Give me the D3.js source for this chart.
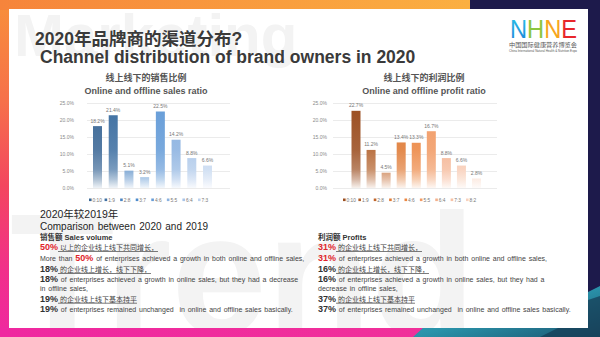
<!DOCTYPE html>
<html><head><meta charset="utf-8">
<script src="https://cdn.jsdelivr.net/npm/d3@7"></script>
<style>
html,body{margin:0;padding:0;background:#fff;}
svg{display:block;font-family:"Liberation Sans","Noto Sans CJK SC",Arial,sans-serif;}
text{white-space:pre;}
</style></head><body>
<svg id="c" width="600" height="337"></svg>
<script>
// ---- data ----
const salesCategories = ["0:10","1:9","2:8","3:7","4:6","5:5","6:4","7:3"];
const salesValues = [18.2,21.4,5.1,3.2,22.5,14.2,8.8,6.6];
const profitCategories = ["0:10","1:9","2:8","3:7","4:6","5:5","6:4","7:3","8:2"];
const profitValues = [22.7,11.2,4.5,13.4,13.3,16.7,8.8,6.6,2.8];
const yTickValues = [0,5,10,15,20,25];

// ---- styles ----
const salesColors = ["#3b6896","#3f70a2","#4a84c2","#4f8ccc","#679dd8","#8bb2e0","#a8c4e8","#bdd2ee"];
const profitColors = ["#9b4e20","#b2602a","#c0652a","#df7a35","#ec8642","#f19b66","#f4b08c","#f6c2a6","#f8d2bf"];

const svg = d3.select("#c");
const defs = svg.append("defs");

// ---- background frame ----
const bgG = defs.append("linearGradient").attr("id","bgV").attr("x1",0).attr("y1",0).attr("x2",0).attr("y2",1);
[["0","#f8903a"],["0.3","#f6704a"],["0.55","#f3465f"],["0.8","#f1308a"],["1","#ef28a0"]].forEach(s=>bgG.append("stop").attr("offset",s[0]).attr("stop-color",s[1]));
const topG = defs.append("linearGradient").attr("id","bgT").attr("x1",0).attr("y1",0).attr("x2",1).attr("y2",0);
[["0","#f6843b"],["1","#fbb041"]].forEach(s=>topG.append("stop").attr("offset",s[0]).attr("stop-color",s[1]));
const botG = defs.append("linearGradient").attr("id","bgB").attr("x1",0).attr("y1",0).attr("x2",1).attr("y2",0);
[["0","#ef28a0"],["1","#f0309a"]].forEach(s=>botG.append("stop").attr("offset",s[0]).attr("stop-color",s[1]));
const tealG = defs.append("linearGradient").attr("id","teal").attr("x1",0).attr("y1",0).attr("x2",1).attr("y2",1);
[["0","#3bb4c8"],["0.5","#2a93aa"],["1","#1c5570"]].forEach(s=>tealG.append("stop").attr("offset",s[0]).attr("stop-color",s[1]));

svg.append("rect").attr("width",600).attr("height",337).attr("fill","url(#bgV)");
svg.append("rect").attr("x",0).attr("y",0).attr("width",476).attr("height",10).attr("fill","url(#bgT)");
svg.append("rect").attr("x",0).attr("y",327).attr("width",420).attr("height",10).attr("fill","url(#bgB)");
svg.append("path").attr("d","M474,0 L600,0 L600,337 L588,337 L588,0 Z").attr("fill","#1d1a4b");
svg.append("path").attr("d","M470,0 L600,0 L600,20 L470,20 Z").attr("fill","#1d1a4b");
svg.append("path").attr("d","M413,337 L424,327 L588,327 L588,292 L600,286 L600,337 Z").attr("fill","url(#teal)");
svg.append("path").attr("d","M540,337 L560,327 L588,327 L588,300 L600,296 L600,337 Z").attr("fill","#163b52").attr("opacity",0.7);

// white panel
defs.append("clipPath").attr("id","panelClip").append("rect").attr("x",9).attr("y",9).attr("width",579).attr("height",319);
svg.append("rect").attr("x",9).attr("y",9).attr("width",579).attr("height",319).attr("fill","#ffffff");
const panel = svg.append("g").attr("clip-path","url(#panelClip)");
panel.append("text").attr("x",14).attr("y",56).attr("font-size",60).attr("font-weight","bold").attr("fill","#f3f3f3").text("Marketing");
panel.append("text").attr("x",10).attr("y",333).attr("font-size",171).attr("font-weight","bold").attr("fill","#f3f3f3").text("Trend");

// ---- titles ----
svg.append("text").attr("x",35).attr("y",45).attr("font-size",17.5).attr("font-weight","bold").attr("fill","#3a3a3a").text("2020年品牌商的渠道分布?");
svg.append("text").attr("x",40).attr("y",63).attr("font-size",17.5).attr("font-weight","bold").attr("fill","#3a3a3a").text("Channel distribution of brand owners in 2020");

// ---- logo ----
const lg = defs.append("linearGradient").attr("id","logoN").attr("x1",0).attr("y1",0).attr("x2",0).attr("y2",1);
lg.append("stop").attr("offset",0).attr("stop-color","#2bc6e8");
lg.append("stop").attr("offset",1).attr("stop-color","#1b7fd8");
const logo = svg.append("text").attr("x",510).attr("y",38).attr("font-size",25).attr("textLength",67).attr("lengthAdjust","spacingAndGlyphs");
[["N","url(#logoN)"],["H","#8cc63f"],["N","#f7a51c"],["E","#e8262b"]].forEach(d=>logo.append("tspan").attr("fill",d[1]).text(d[0]));
svg.append("text").attr("x",509).attr("y",46.5).attr("font-size",6).attr("fill","#555").attr("textLength",68).attr("lengthAdjust","spacingAndGlyphs").text("中国国际健康营养博览会");
svg.append("text").attr("x",509).attr("y",52).attr("font-size",2.6).attr("fill","#555").attr("textLength",68).attr("lengthAdjust","spacingAndGlyphs").text("China International Natural Health & Nutrition Expo");

// ---- charts ----
const y = d3.scaleLinear().domain([0,25]).range([188,103]);
function drawChart(cfg){
  const g = svg.append("g");
  g.append("text").attr("x",cfg.titleX).attr("y",80.5).attr("text-anchor","middle").attr("font-size",9).attr("font-weight","bold").attr("fill","#555").text(cfg.titleCn);
  g.append("text").attr("x",cfg.titleX).attr("y",94).attr("text-anchor","middle").attr("font-size",9).attr("font-weight","bold").attr("fill","#555").text(cfg.titleEn);
  // gridlines
  const grid = g.append("g").attr("transform",`translate(${cfg.gridX0},0)`)
    .call(d3.axisRight(y).tickValues(yTickValues).tickSize(cfg.gridX1-cfg.gridX0).tickFormat(""));
  grid.select(".domain").remove();
  grid.selectAll("line").attr("stroke","#dedede").attr("stroke-width",0.6);
  // y labels
  const ax = g.append("g").attr("transform",`translate(${cfg.labelX},0)`)
    .call(d3.axisLeft(y).tickValues(yTickValues).tickSize(0).tickPadding(0).tickFormat(d=>d.toFixed(1)+"%"));
  ax.select(".domain").remove();
  ax.selectAll("text").attr("font-size",5).attr("fill","#8a8a8a").attr("font-family",null);
  const x = d3.scalePoint().domain(cfg.cats).range([cfg.barX0,cfg.barX1]);
  const bw = 9;
  cfg.cats.forEach((c,i)=>{
    const col = cfg.colors[i];
    const gr = defs.append("linearGradient").attr("id",cfg.id+"g"+i).attr("gradientUnits","userSpaceOnUse")
      .attr("x1",0).attr("y1",y(25)).attr("x2",0).attr("y2",y(0));
    const mix = t=>d3.interpolateRgb(col,"#ffffff")(t);
    [[0,0],[0.55,0.12],[0.78,0.3],[0.9,0.6],[1,0.92]].forEach(s=>gr.append("stop").attr("offset",s[0]).attr("stop-color",mix(s[1])));
  });
  g.selectAll("rect.bar").data(cfg.vals).join("rect").attr("class","bar")
    .attr("x",(d,i)=>x(cfg.cats[i])-bw/2).attr("width",bw)
    .attr("y",d=>y(d)).attr("height",d=>y(0)-y(d))
    .attr("fill",(d,i)=>`url(#${cfg.id}g${i})`);
  g.selectAll("text.val").data(cfg.vals).join("text").attr("class","val")
    .attr("x",(d,i)=>x(cfg.cats[i])).attr("y",d=>y(d)-3.5)
    .attr("text-anchor","middle").attr("font-size",5).attr("fill","#777")
    .text(d=>d.toFixed(1)+"%");
  // legend
  const lx = d3.scalePoint().domain(cfg.cats).range([cfg.legX0,cfg.legX1]);
  const leg = g.selectAll("g.leg").data(cfg.cats).join("g").attr("class","leg")
    .attr("transform",d=>`translate(${lx(d)},200)`);
  leg.append("rect").attr("x",0).attr("y",-1.5).attr("width",2.6).attr("height",2.6).attr("fill",(d,i)=>cfg.colors[i]);
  leg.append("text").attr("x",3.6).attr("y",1.7).attr("font-size",4.8).attr("fill","#777").text(d=>d);
}
drawChart({id:"s",cats:salesCategories,vals:salesValues,colors:salesColors,titleCn:"线上线下的销售比例",titleEn:"Online and offline sales ratio",
  titleX:146,labelX:74,gridX0:87,gridX1:230,barX0:97.5,barX1:207.5,legX0:89,legX1:198});
drawChart({id:"p",cats:profitCategories,vals:profitValues,colors:profitColors,titleCn:"线上线下的利润比例",titleEn:"Online and offline profit ratio",
  titleX:424,labelX:327,gridX0:333,gridX1:497,barX0:356,barX1:476.5,legX0:343,legX1:466});

// ---- text blocks ----
const styles = {
  big:{size:10.5,weight:"normal",fill:"#1e1e1e"},
  big2:{size:10,weight:"normal",fill:"#1e1e1e",ws:1},
  h:{size:7.5,weight:"bold",fill:"#333"},
  red:{size:9,weight:"bold",fill:"#e0252b"},
  pct:{size:9,weight:"bold",fill:"#333"},
  b:{size:7,weight:"normal",fill:"#444",ws:0.9},
  cn:{size:7,weight:"normal",fill:"#444",ul:true}
};
const leftLines = [
  [218,[["2020年较2019年","big"]]],
  [229.5,[["Comparison between 2020 and 2019","big2"]]],
  [239.5,[["销售额 Sales volume","h"]]],
  [250.3,[["50%","red"],[" 以上的企业线上线下共同增长，","cn"]]],
  [261,[["More than ","b"],["50%","red"],[" of enterprises achieved a growth in both online and offline sales,","b"]]],
  [272,[["18%","pct"],[" 的企业线上增长，线下下降，","cn"]]],
  [282.3,[["18%","pct"],[" of enterprises achieved a growth in online sales, but they had a decrease","b"]]],
  [290.8,[["in offline sales,","b"]]],
  [301.8,[["19%","pct"],[" 的企业线上线下基本持平","cn"]]],
  [312.2,[["19%","pct"],[" of enterprises remained unchanged  in online and offline sales basically.","b"]]]
];
const rightLines = [
  [239.5,[["利润额 Profits","h"]]],
  [250.3,[["31%","red"],[" 的企业线上线下共同增长，","cn"]]],
  [261,[["31%","red"],[" of enterprises achieved a growth in both online and offline sales,","b"]]],
  [272,[["16%","pct"],[" 的企业线上增长，线下下降，","cn"]]],
  [282.3,[["16%","pct"],[" of enterprises achieved a growth in online sales, but they had a","b"]]],
  [290.8,[["decrease in offline sales,","b"]]],
  [301.8,[["37%","pct"],[" 的企业线上线下基本持平","cn"]]],
  [312.2,[["37%","pct"],[" of enterprises remained unchanged  in online and offline sales basically.","b"]]]
];
function drawBlock(x0, lines){
  lines.forEach(([yy,segs])=>{
    const t = svg.append("text").attr("x",x0).attr("y",yy);
    segs.forEach(([s,k])=>{
      const st = styles[k];
      const sp = t.append("tspan").text(s).attr("font-size",st.size).attr("font-weight",st.weight).attr("fill",st.fill);
      if(st.ws) sp.attr("word-spacing",st.ws);
      if(st.ul) sp.attr("text-decoration","underline");
    });
  });
}
drawBlock(40,leftLines);
drawBlock(318,rightLines);
</script>
</body></html>
